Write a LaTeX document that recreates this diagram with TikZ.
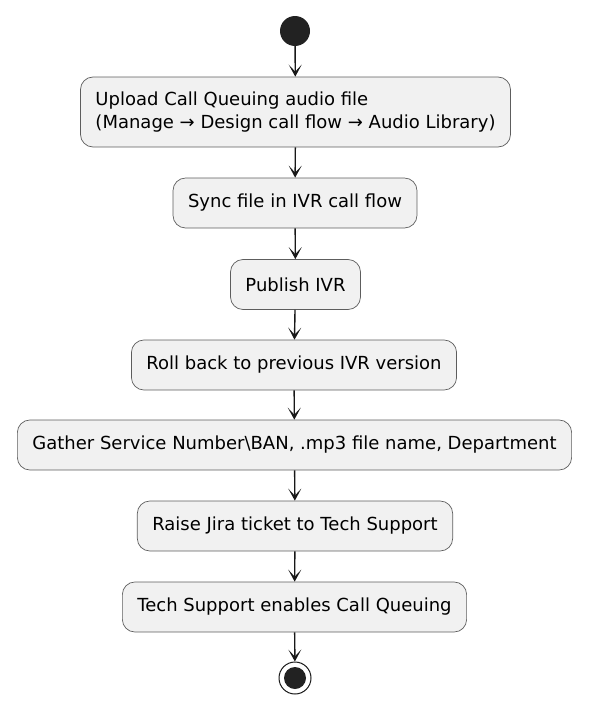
\documentclass[tikz,border=0pt]{standalone}
\usepackage{fontspec}
\setmainfont{DejaVu Sans}
\usetikzlibrary{arrows.meta,positioning}

\definecolor{actfill}{HTML}{F1F1F1}
\definecolor{actline}{HTML}{181818}
\definecolor{dotfill}{HTML}{222222}

\begin{document}
\begin{tikzpicture}[
  x=1pt,y=1pt,
  action/.style={rounded corners=12.5pt,draw=actline!70,line width=0.7pt,fill=actfill,
    minimum height=50pt,inner xsep=15pt,font=\fontsize{18}{23}\selectfont},
  startdot/.style={circle,fill=dotfill,minimum size=30pt,inner sep=0pt},
  stopdot/.style={circle,draw=actline,line width=1pt,fill=white,minimum size=32pt,inner sep=0pt},
  arrow/.style={-{Stealth[length=12pt,width=13pt,inset=7pt]},line width=1.4pt,draw=actline}
]
  \useasboundingbox (0,0) rectangle (593,-704);

  \node[startdot] (start) at (295,-31) {};
  \node[action,minimum height=70pt,align=left] (upload) at (295.5,-112)
    {Upload Call Queuing audio file\\(Manage → Design call flow → Audio Library)};
  \node[action] (sync) at (295,-203) {Sync file in IVR call flow};
  \node[action] (publish) at (295.5,-284.5) {Publish IVR};
  \node[action] (rollback) at (294,-365) {Roll back to previous IVR version};
  \node[action] (gather) at (294.5,-445) {Gather Service Number\textbackslash BAN, .mp3 file name, Department};
  \node[action] (raise) at (295,-526) {Raise Jira ticket to Tech Support};
  \node[action] (enable) at (294.5,-607) {Tech Support enables Call Queuing};
  \node[stopdot] (stop) at (295,-678) {};
  \fill[dotfill] (stop.center) circle (11pt);

  \draw[arrow] (start) -- (upload);
  \draw[arrow] (upload) -- (sync);
  \draw[arrow] (sync) -- (publish);
  \draw[arrow] (publish) -- (rollback);
  \draw[arrow] (rollback) -- (gather);
  \draw[arrow] (gather) -- (raise);
  \draw[arrow] (raise) -- (enable);
  \draw[arrow] (enable) -- (stop);
\end{tikzpicture}
\end{document}
